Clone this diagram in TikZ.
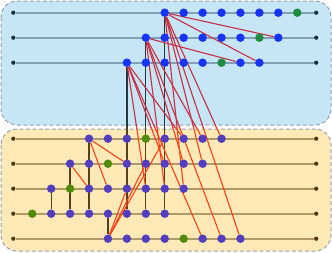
\documentclass[tikz,border=0pt]{standalone}
\definecolor{topfill}{RGB}{198,230,246}
\definecolor{botfill}{RGB}{255,234,183}
\definecolor{boxline}{RGB}{150,160,170}
\definecolor{t-line}{RGB}{130,160,180}
\definecolor{b-line}{RGB}{175,155,105}
\definecolor{t-end}{RGB}{25,45,60}
\definecolor{b-end}{RGB}{75,55,15}
\definecolor{t-blue}{RGB}{22,52,250}
\definecolor{t-green}{RGB}{30,140,65}
\definecolor{b-blue}{RGB}{82,62,190}
\definecolor{b-green}{RGB}{80,140,10}
\definecolor{t-red}{RGB}{200,45,65}
\definecolor{b-red}{RGB}{255,65,20}
\definecolor{t-vert}{RGB}{35,55,65}
\definecolor{b-vert}{RGB}{85,65,25}
\pgfdeclarelayer{boxes}
\pgfdeclarelayer{edges}
\pgfsetlayers{boxes,edges,main}
\begin{document}
\begin{tikzpicture}[x=1pt,y=-1pt,
  dot/.style={circle,inner sep=0pt,minimum size=8.5pt},
  enddot/.style={circle,inner sep=0pt,minimum size=4.2pt},
  region/.style={rounded corners=16pt,dash pattern=on 4pt off 2.5pt,draw=boxline,line width=1pt},
  hline/.style={line width=1.6pt},
  vline/.style={line width=1.3pt},
  rline/.style={line width=1.1pt}]
\useasboundingbox (0,0) rectangle (332,252);
% dots
\foreach \s/\y/\rg in {8/12.7/t,7/37.7/t,6/62.7/t,4/138.7/b,3/163.7/b,2/188.7/b,1/213.7/b,5/238.7/b}{
  \pgfmathtruncatemacro\mye{\s+7}
  \pgfmathtruncatemacro\myg{2*\s-1}
  \node[enddot,fill=\rg-end] (e\s l) at (13.3,\y) {};
  \node[enddot,fill=\rg-end] (e\s r) at (316.2,\y) {};
  \foreach \myc in {\s,...,\mye}{
    \ifnum\myc=\myg\relax \def\mycol{\rg-green}\else\def\mycol{\rg-blue}\fi
    \node[dot,fill=\mycol] (n\s-\myc) at ({13.3+18.93*\myc},\y) {};
  }
}
\begin{pgfonlayer}{boxes}
\draw[region,fill=topfill] (1,1) rectangle (331,125);
\draw[region,fill=botfill] (1,129) rectangle (331,251);
\end{pgfonlayer}
\begin{pgfonlayer}{edges}
\foreach \s/\rg in {8/t,7/t,6/t,4/b,3/b,2/b,1/b,5/b}{
  \draw[hline,draw=\rg-line] (e\s l) -- (e\s r);
}
\foreach \rg/\ya/\yb in {t/0/127,b/127/252}{
  \begin{scope}
    \clip (0,\ya) rectangle (332,\yb);
    \foreach \s in {2,...,8}{
      \draw[vline,draw=\rg-vert] (n\s-\s) -- (n1-\s);
    }
    \foreach \s in {3,...,8}{
      \pgfmathtruncatemacro\qmax{\s-1}
      \foreach \q in {2,...,\qmax}{
        \pgfmathtruncatemacro\myt{\q+\s-1}
        \draw[rline,draw=\rg-red] (n\s-\s) -- (n\q-\myt);
      }
    }
  \end{scope}
}
\end{pgfonlayer}
\end{tikzpicture}
\end{document}
